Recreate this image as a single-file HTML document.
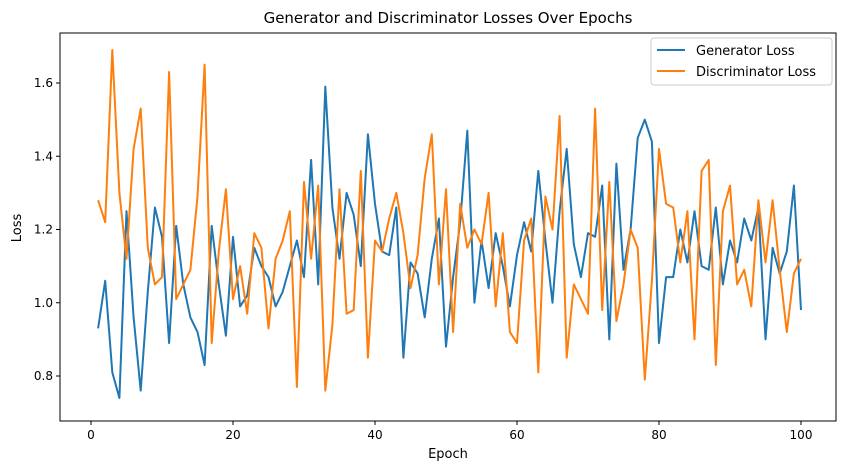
<!DOCTYPE html>
<html><head><meta charset="utf-8"><style>
body{margin:0;background:#fff;}
svg{display:block;font-family:"DejaVu Sans","Liberation Sans",sans-serif;}
</style></head><body>
<svg id="chart" width="846" height="470">
<text x="448" y="23" text-anchor="middle" font-size="15">Generator and Discriminator Losses Over Epochs</text>
<rect x="60" y="33" width="776" height="388" fill="none" stroke="#000" stroke-width="1"/>
<g id="xticks"></g>
<g id="yticks"></g>
<g id="series"></g>
<text x="448" y="458" text-anchor="middle" font-size="13">Epoch</text>
<text x="21" y="228" text-anchor="middle" font-size="13" transform="rotate(-90 21 228)">Loss</text>
<g>
<rect x="651" y="38" width="181" height="47" rx="3" fill="#fff" stroke="#ccc"/>
<line x1="657" y1="50" x2="685" y2="50" stroke="#1f77b4" stroke-width="2"/>
<text x="696" y="55" font-size="13">Generator Loss</text>
<line x1="657" y1="71" x2="685" y2="71" stroke="#ff7f0e" stroke-width="2"/>
<text x="696" y="76" font-size="13">Discriminator Loss</text>
</g>
</svg>
<script>
const genLoss=[0.93,1.06,0.81,0.74,1.25,0.96,0.76,1.03,1.26,1.18,0.89,1.21,1.05,0.96,0.92,0.83,1.21,1.05,0.91,1.18,0.99,1.02,1.15,1.10,1.07,0.99,1.03,1.10,1.17,1.07,1.39,1.05,1.59,1.26,1.12,1.30,1.24,1.10,1.46,1.27,1.14,1.13,1.26,0.85,1.11,1.08,0.96,1.12,1.23,0.88,1.07,1.22,1.47,1.00,1.17,1.04,1.19,1.10,0.99,1.13,1.22,1.14,1.36,1.17,1.00,1.25,1.42,1.16,1.07,1.19,1.18,1.32,0.90,1.38,1.09,1.20,1.45,1.50,1.44,0.89,1.07,1.07,1.20,1.11,1.25,1.10,1.09,1.26,1.05,1.17,1.11,1.23,1.17,1.26,0.90,1.15,1.08,1.14,1.32,0.98];
const discLoss=[1.28,1.22,1.69,1.30,1.12,1.42,1.53,1.15,1.05,1.07,1.63,1.01,1.05,1.09,1.29,1.65,0.89,1.14,1.31,1.01,1.10,0.97,1.19,1.15,0.93,1.12,1.17,1.25,0.77,1.33,1.12,1.32,0.76,0.94,1.31,0.97,0.98,1.36,0.85,1.17,1.14,1.23,1.30,1.19,1.04,1.13,1.34,1.46,1.05,1.31,0.92,1.27,1.15,1.20,1.16,1.30,0.99,1.19,0.92,0.89,1.17,1.23,0.81,1.29,1.20,1.51,0.85,1.05,1.01,0.97,1.53,0.98,1.33,0.95,1.05,1.20,1.15,0.79,1.06,1.42,1.27,1.26,1.11,1.25,0.90,1.36,1.39,0.83,1.25,1.32,1.05,1.09,0.99,1.28,1.11,1.28,1.09,0.92,1.08,1.12];
const xTickValues=[0,20,40,60,80,100];
const yTickValues=[0.8,1.0,1.2,1.4,1.6];
const NS="http://www.w3.org/2000/svg";
function xs(e){return 91+e*7.1;}
function ys(v){return 376-(v-0.8)*366.25;}
const xg=document.getElementById('xticks'),yg=document.getElementById('yticks'),sg=document.getElementById('series');
xTickValues.forEach(t=>{
 const l=document.createElementNS(NS,'line');
 l.setAttribute('x1',xs(t));l.setAttribute('x2',xs(t));l.setAttribute('y1',421);l.setAttribute('y2',425);l.setAttribute('stroke','#000');
 
 
 xg.appendChild(l);
 const tx=document.createElementNS(NS,'text');
 tx.setAttribute('x',xs(t));tx.setAttribute('y',439);tx.setAttribute('text-anchor','middle');tx.setAttribute('font-size','12');tx.textContent=t;
 
 
 xg.appendChild(tx);
});
yTickValues.forEach(t=>{
 const l=document.createElementNS(NS,'line');
 l.setAttribute('x1',56);l.setAttribute('x2',60);l.setAttribute('y1',ys(t));l.setAttribute('y2',ys(t));l.setAttribute('stroke','#000');
 
 
 yg.appendChild(l);
 const tx=document.createElementNS(NS,'text');
 tx.setAttribute('x',53);tx.setAttribute('y',ys(t)+4);tx.setAttribute('text-anchor','end');tx.setAttribute('font-size','12');tx.textContent=t.toFixed(1);
 
 
 yg.appendChild(tx);
});
function line(data,color,name){
 const p=document.createElementNS(NS,'polyline');
 p.setAttribute('points',data.map((v,i)=>xs(i+1)+','+ys(v)).join(' '));
 p.setAttribute('fill','none');p.setAttribute('stroke',color);p.setAttribute('stroke-width','2');p.setAttribute('stroke-linejoin','round');
 
 
 sg.appendChild(p);
}
line(genLoss,'#1f77b4','generator-loss-line');
line(discLoss,'#ff7f0e','discriminator-loss-line');
</script>
</body></html>
